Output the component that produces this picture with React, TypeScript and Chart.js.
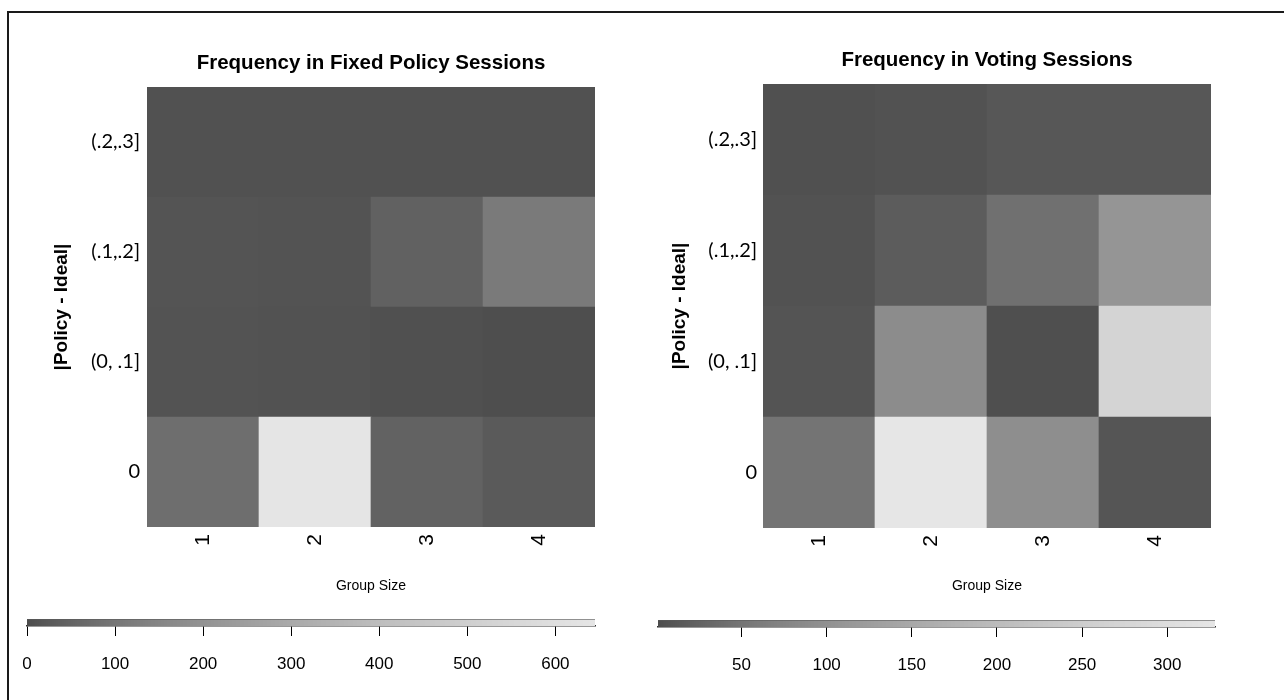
import React, { useEffect, useRef } from 'react';
import { Chart, registerables } from 'chart.js';

Chart.register(...registerables);

// ---------- data ----------
const groupSizes = ['1', '2', '3', '4'];
// rows from bottom to top
const distanceBins = ['0', '(0, .1]', '(.1,.2]', '(.2,.3]'];

// Fixed policy sessions: frequency per group size
const fixedZero = [78, 640, 45, 28];
const fixedLow = [12, 10, 6, 3];
const fixedMid = [14, 12, 44, 113];
const fixedHigh = [8, 9, 8, 8];

// Voting sessions: frequency per group size
const votingZero = [49, 328, 94, 9];
const votingLow = [8, 90, 3, 270];
const votingMid = [6, 17, 43, 108];
const votingHigh = [4, 6, 11, 11];

const fixedRange = [0, 645];
const votingRange = [1, 328];
const fixedTicks = [0, 100, 200, 300, 400, 500, 600];
const votingTicks = [50, 100, 150, 200, 250, 300];

const fixedTitle = 'Frequency in Fixed Policy Sessions';
const votingTitle = 'Frequency in Voting Sessions';
const xTitle = 'Group Size';
const yTitle = '|Policy - Ideal|';

// ---------- helpers ----------
const SANS = "'Liberation Sans', Arial, sans-serif";
const LABEL_FONT = "Lato, 'Open Sans', sans-serif";
const Y_TITLE_SIZE = 19;
const X_TITLE_SIZE = 14;

function grayFor(v: number, min: number, max: number) {
  const t = Math.max(0, Math.min(1, (v - min) / (max - min)));
  const a = Math.pow(0.3, 2.2);
  const b = Math.pow(0.9, 2.2);
  const L = Math.pow(a + t * (b - a), 1 / 2.2);
  const c = Math.round(L * 255);
  return `rgb(${c},${c},${c})`;
}

type HeatParams = {
  title: string;
  rows: number[][];
  range: number[];
  canvasW: number;
  canvasH: number;
  areaLeft: number;
  areaRight: number;
  areaTop: number;
  areaBottom: number;
  axisBottom: number;
  titleCenterY: number;
  titleSize: number;
  yTitleX: number;
  yLabelGap: number;
  groupTitleY: number;
};

function heatmapConfig(p: HeatParams): any {
  const titleLH = p.titleSize * 1.2;
  const titlePadTop = p.titleCenterY - titleLH / 2;
  const titlePadBottom = p.areaTop - titlePadTop - titleLH;
  const yTitleLH = Y_TITLE_SIZE * 1.2;
  const xTitleLH = X_TITLE_SIZE * 1.2;
  return {
    type: 'bar',
    data: {
      labels: groupSizes,
      datasets: p.rows.map((row, r) => ({
        label: distanceBins[r],
        data: row.map(() => [r, r + 1]),
        backgroundColor: row.map((v) => grayFor(v, p.range[0], p.range[1])),
        borderWidth: 0,
        barPercentage: 1,
        categoryPercentage: 1,
        grouped: false,
      })),
    },
    options: {
      responsive: false,
      animation: false,
      events: [],
      layout: {
        padding: { left: 0, right: p.canvasW - p.areaRight, top: 0, bottom: p.canvasH - p.axisBottom },
      },
      plugins: {
        legend: { display: false },
        tooltip: { enabled: false },
        title: {
          display: true,
          text: p.title,
          fullSize: false,
          color: '#000',
          font: { family: SANS, size: p.titleSize, weight: 'bold' },
          padding: { top: titlePadTop, bottom: titlePadBottom },
        },
      },
      scales: {
        x: {
          type: 'category',
          offset: true,
          grid: { display: false, drawTicks: false },
          border: { display: false },
          ticks: {
            color: '#000',
            font: { family: SANS, size: 21 },
            minRotation: 90,
            maxRotation: 90,
            padding: 7,
            autoSkip: false,
          },
          title: {
            display: true,
            text: xTitle,
            color: '#000',
            font: { family: SANS, size: X_TITLE_SIZE },
            padding: { top: 0, bottom: p.axisBottom - p.groupTitleY - xTitleLH / 2 },
          },
          afterFit: (s: any) => {
            s.height = p.axisBottom - p.areaBottom;
          },
        },
        y: {
          type: 'linear',
          min: 0,
          max: 4,
          grid: { display: false, drawTicks: false },
          border: { display: false },
          afterBuildTicks: (ax: any) => {
            ax.ticks = distanceBins.map((_, i) => ({ value: i + 0.5 }));
          },
          ticks: {
            color: '#000',
            font: { family: LABEL_FONT, size: 20 },
            padding: p.yLabelGap,
            callback: (v: any) => distanceBins[Math.floor(Number(v))],
          },
          title: {
            display: true,
            text: yTitle,
            color: '#000',
            font: { family: SANS, size: Y_TITLE_SIZE, weight: 'bold' },
            padding: { top: p.yTitleX - yTitleLH / 2, bottom: 0 },
          },
          afterFit: (s: any) => {
            s.width = p.areaLeft;
          },
        },
      },
    },
  };
}

type BarParams = {
  range: number[];
  ticks: number[];
  canvasW: number;
  canvasH: number;
  barLeft: number;
  barRight: number;
  barTop: number;
  barBottom: number;
};

function colorbarConfig(p: BarParams): any {
  const axisH = 60;
  const fillPlugin = {
    id: 'colorbarFill',
    beforeDatasetsDraw(chart: any) {
      const { ctx, chartArea } = chart;
      const x = chart.scales.x;
      ctx.save();
      for (let px = Math.floor(chartArea.left); px < chartArea.right; px++) {
        const v = x.getValueForPixel(px + 0.5);
        ctx.fillStyle = grayFor(v, p.range[0], p.range[1]);
        ctx.fillRect(px, chartArea.top, 1, chartArea.bottom - chartArea.top);
      }
      ctx.fillStyle = 'rgba(90,90,90,0.6)';
      ctx.fillRect(chartArea.left, chartArea.top, chartArea.right - chartArea.left, 1);
      ctx.restore();
    },
  };
  return {
    type: 'scatter',
    data: { datasets: [] },
    options: {
      responsive: false,
      animation: false,
      events: [],
      layout: {
        padding: {
          left: p.barLeft,
          right: p.canvasW - p.barRight,
          top: p.barTop,
          bottom: p.canvasH - p.barBottom - axisH,
        },
      },
      plugins: { legend: { display: false }, tooltip: { enabled: false }, title: { display: false } },
      scales: {
        x: {
          type: 'linear',
          min: p.range[0],
          max: p.range[1],
          afterBuildTicks: (ax: any) => {
            ax.ticks = p.ticks.map((value) => ({ value }));
          },
          grid: { drawOnChartArea: false, drawTicks: true, tickLength: 10, tickColor: '#000', tickWidth: 1 },
          border: { display: true, color: '#333', width: 1.5 },
          ticks: {
            color: '#000',
            font: { family: SANS, size: 17 },
            padding: 18,
            maxRotation: 0,
            autoSkip: false,
          },
          afterFit: (s: any) => {
            s.height = axisH;
          },
        },
        y: { display: false, min: 0, max: 1 },
      },
    },
    plugins: [fillPlugin],
  };
}

function ChartBox(props: { left: number; top: number; width: number; height: number; make: () => any }) {
  const ref = useRef<HTMLCanvasElement>(null);
  useEffect(() => {
    const chart = new Chart(ref.current as HTMLCanvasElement, props.make());
    return () => chart.destroy();
  }, []);
  return (
    <canvas
      ref={ref}
      width={props.width}
      height={props.height}
      style={{ position: 'absolute', left: props.left, top: props.top, width: props.width, height: props.height }}
    />
  );
}

export default function App() {
  return (
    <div
      style={{
        position: 'absolute',
        left: 0,
        top: 0,
        width: 1284,
        height: 700,
        background: '#fff',
        overflow: 'hidden',
      }}
    >
      <div
        style={{
          position: 'absolute',
          left: 7,
          top: 11,
          width: 1320,
          height: 740,
          borderTop: '2px solid #1a1a1a',
          borderLeft: '2px solid #1a1a1a',
        }}
      />
      <ChartBox
        left={0}
        top={0}
        width={640}
        height={610}
        make={() =>
          heatmapConfig({
            title: fixedTitle,
            rows: [fixedZero, fixedLow, fixedMid, fixedHigh],
            range: fixedRange,
            canvasW: 640,
            canvasH: 610,
            areaLeft: 147,
            areaRight: 595,
            areaTop: 87,
            areaBottom: 527,
            axisBottom: 600,
            titleCenterY: 63,
            titleSize: 20.5,
            yTitleX: 62,
            yLabelGap: 7,
            groupTitleY: 586,
          })
        }
      />
      <ChartBox
        left={640}
        top={0}
        width={644}
        height={610}
        make={() =>
          heatmapConfig({
            title: votingTitle,
            rows: [votingZero, votingLow, votingMid, votingHigh],
            range: votingRange,
            canvasW: 644,
            canvasH: 610,
            areaLeft: 123,
            areaRight: 571,
            areaTop: 84,
            areaBottom: 528,
            axisBottom: 600,
            titleCenterY: 60,
            titleSize: 20.5,
            yTitleX: 40,
            yLabelGap: 6,
            groupTitleY: 586,
          })
        }
      />
      <ChartBox
        left={0}
        top={590}
        width={640}
        height={110}
        make={() =>
          colorbarConfig({
            range: fixedRange,
            ticks: fixedTicks,
            canvasW: 640,
            canvasH: 110,
            barLeft: 27,
            barRight: 595,
            barTop: 29,
            barBottom: 36,
          })
        }
      />
      <ChartBox
        left={640}
        top={590}
        width={644}
        height={110}
        make={() =>
          colorbarConfig({
            range: votingRange,
            ticks: votingTicks,
            canvasW: 644,
            canvasH: 110,
            barLeft: 18,
            barRight: 575,
            barTop: 30,
            barBottom: 37,
          })
        }
      />
    </div>
  );
}
